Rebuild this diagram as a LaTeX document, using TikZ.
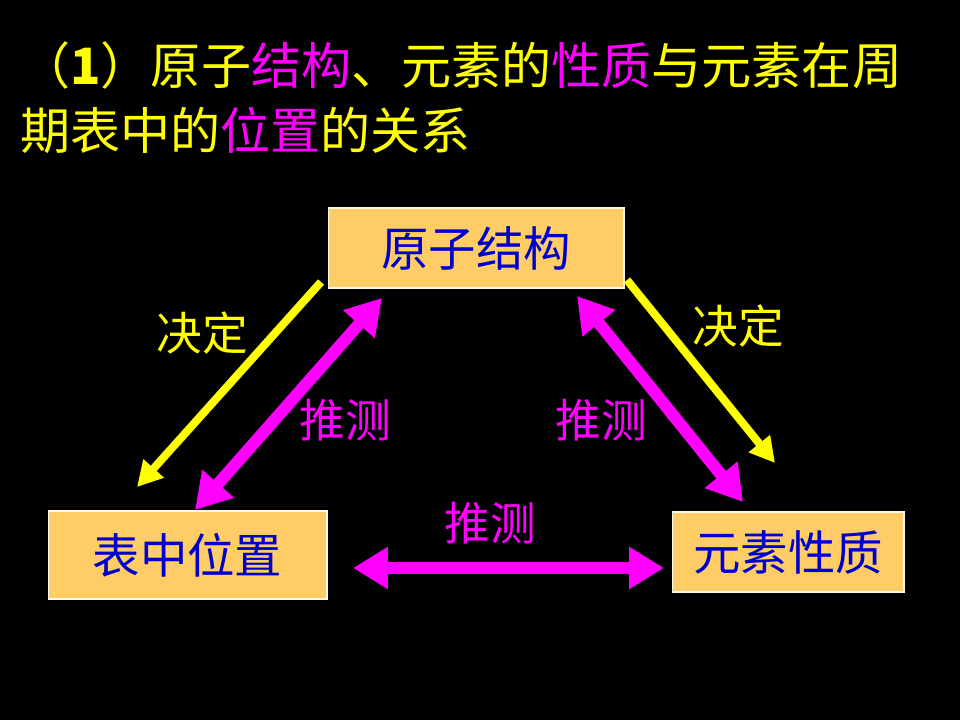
\documentclass[tikz,border=0pt]{standalone}
\usepackage{fontspec}
\setmainfont{Noto Sans CJK SC}
\usetikzlibrary{arrows.meta}
\definecolor{boxfill}{HTML}{FFCC66}
\definecolor{boxtext}{HTML}{0000CC}
\definecolor{mag}{HTML}{FF00FF}
\definecolor{yel}{HTML}{FFFF00}
\newcommand{\hl}[1]{\textcolor{mag}{#1}}

\begin{document}
\begin{tikzpicture}[x=0.02cm,y=-0.02cm]
\tikzstyle{every node}+=[inner sep=0pt]
\tikzstyle{box}=[draw=white!85!boxfill,line width=0.6pt,fill=boxfill,text=boxtext,font=\fontsize{27pt}{30pt}\selectfont]
\tikzstyle{lbl}=[font=\fontsize{26pt}{28pt}\selectfont]
\tikzstyle{decide}=[yel,line width=0.16cm,-{Triangle[width=0.52cm,length=0.5cm]}]
\tikzstyle{infer}=[mag,line width=0.24cm,{Triangle[width=0.8cm,length=0.7cm]}-{Triangle[width=0.8cm,length=0.7cm]}]
\fill [black] (0,0) rectangle (960,720);
% title
\node (t1) [anchor=west,text=yel,font=\fontsize{28.5pt}{30pt}\selectfont] at (20,65) {（\textbf{1}）原子\hl{结构}、元素的\hl{性质}与元素在周};
\node (t2) [anchor=west,text=yel,font=\fontsize{28.5pt}{30pt}\selectfont] at (20,130) {期表中的\hl{位置}的关系};
% boxes
\node (jg) [box,minimum width=5.92cm,minimum height=1.6cm] at (476,248) {原子结构};
\node (wz) [box,minimum width=5.58cm,minimum height=1.76cm] at (187.5,555) {表中位置};
\node (xz) [box,minimum width=4.64cm,minimum height=1.6cm] at (788,552) {元素性质};
% arrow ends
\coordinate (a1) at (321,282);
\coordinate (a2) at (137,487);
\coordinate (b1) at (627,280);
\coordinate (b2) at (775,463);
\coordinate (c1) at (382,298);
\coordinate (c2) at (195,510);
\coordinate (d1) at (577,296);
\coordinate (d2) at (743,502);
\coordinate (e1) at (353,568);
\coordinate (e2) at (664,568);
\draw [decide] (a1) -- (a2);
\draw [decide] (b1) -- (b2);
\draw [infer] (c1) -- (c2);
\draw [infer] (d1) -- (d2);
\draw [infer] (e1) -- (e2);
% labels
\node (l1) [lbl,text=yel] at (202,333) {决定};
\node (l2) [lbl,text=yel] at (738,326) {决定};
\node (l3) [lbl,text=mag] at (345,420) {推测};
\node (l4) [lbl,text=mag] at (601,420) {推测};
\node (l5) [lbl,text=mag] at (490,523) {推测};
\end{tikzpicture}
\end{document}
